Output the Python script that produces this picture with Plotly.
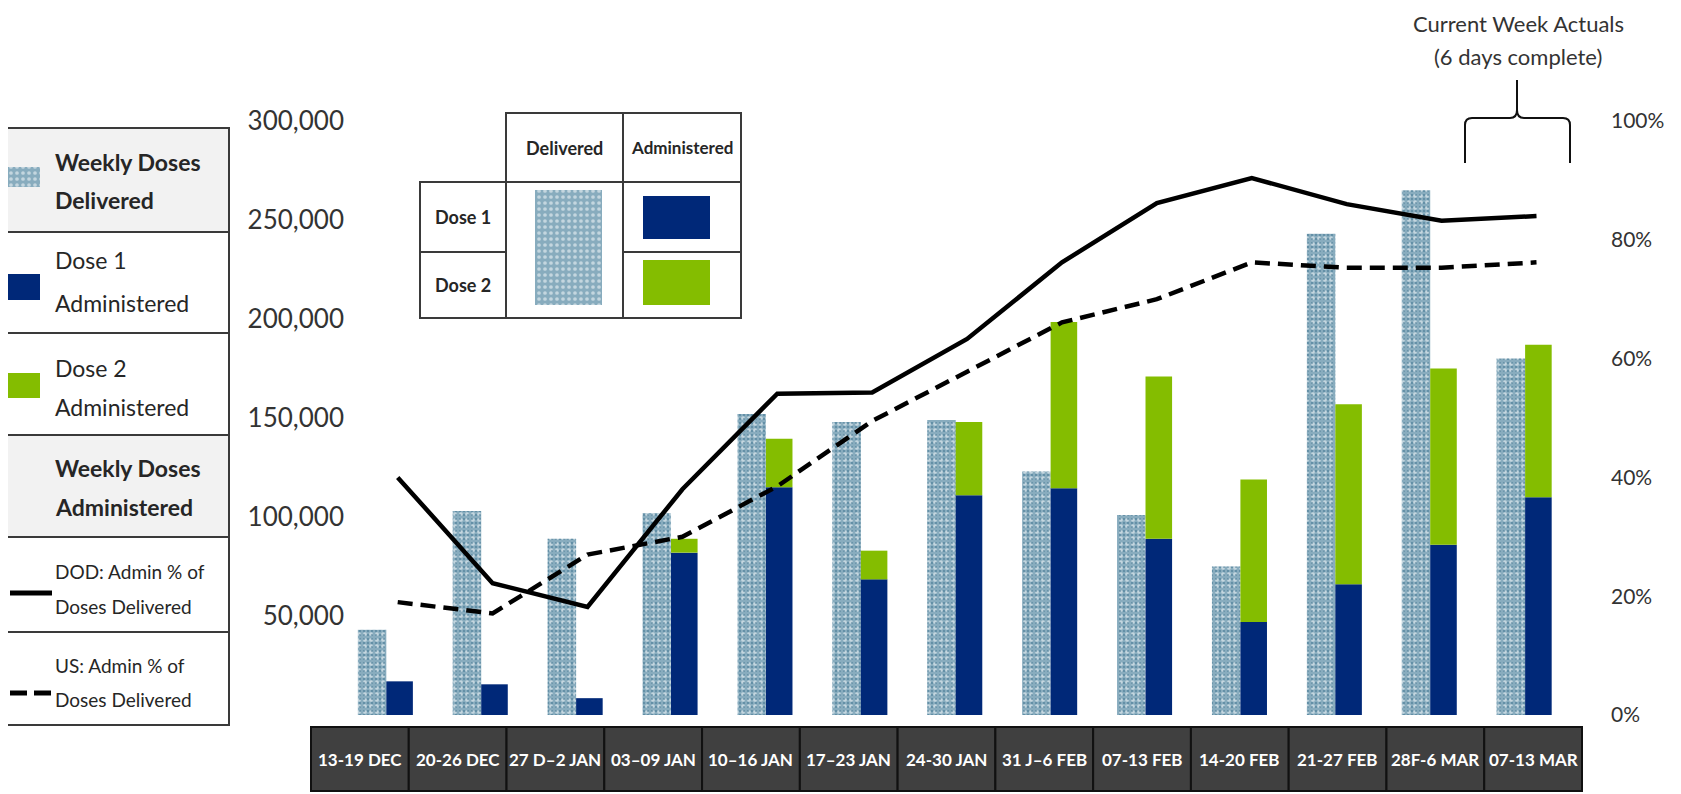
import plotly.graph_objects as go

# ---------------- data ----------------
categories = ["13-19 DEC", "20-26 DEC", "27 D\u20132 JAN", "03\u201309 JAN", "10\u201316 JAN",
              "17\u201323 JAN", "24-30 JAN", "31 J\u20136 FEB", "07-13 FEB", "14-20 FEB",
              "21-27 FEB", "28F-6 MAR", "07-13 MAR"]
delivered = [43000, 103000, 89000, 102000, 152000, 148000, 149000, 123000, 101000, 75000, 243000, 265000, 180000]
dose1 = [17000, 15500, 8500, 82000, 115000, 68500, 111000, 114500, 89000, 47000, 66000, 86000, 110000]
dose2 = [0, 0, 0, 7000, 24500, 14500, 37000, 84000, 82000, 72000, 91000, 89000, 77000]
dod_pct = [0.40, 0.222, 0.182, 0.38, 0.541, 0.543, 0.633, 0.762, 0.862, 0.904, 0.860, 0.832, 0.840]
us_pct = [0.190, 0.171, 0.270, 0.300, 0.385, 0.495, 0.578, 0.661, 0.700, 0.762, 0.753, 0.753, 0.762]
left_ticks = [50000, 100000, 150000, 200000, 250000, 300000]
right_ticks = [0, 0.2, 0.4, 0.6, 0.8, 1.0]

legend_rows = [
    ("Weekly Doses", "Delivered", True),
    ("Dose 1", "Administered", False),
    ("Dose 2", "Administered", False),
    ("Weekly Doses", "Administered", True),
    ("DOD: Admin % of", "Doses Delivered", False),
    ("US: Admin % of", "Doses Delivered", False),
]
note_lines = ["Current Week Actuals", "(6 days complete)"]

# ---------------- styling / layout ----------------
W, H = 1681, 794          # page size
OX, OY = 8, 8             # default body margin of the html page
FW, FH = W - OX, H - OY   # figure size so it fits the window exactly
FONT = "Lato, 'Open Sans', sans-serif"
BG_DEL = "#88acbe"
NAVY = "#002878"
GREEN = "#84bd00"
TXT = "#262626"

# plot area in page pixels
PL, PR, PT, PB = 350, 1600, 121, 715
CAT_PX0, CAT_PITCH = 397.7, 94.9
x_range = [(PL - CAT_PX0) / CAT_PITCH, (PR - CAT_PX0) / CAT_PITCH]
xs = list(range(len(categories)))

fig = go.Figure()

pat_white = dict(shape=".", fgcolor="white", bgcolor=BG_DEL, size=6, solidity=0.3)
pat_dark = dict(shape=".", fgcolor="#1c5878", size=4, solidity=0.16, fillmode="overlay")

fig.add_trace(go.Bar(x=xs, y=delivered, width=0.30, offset=-0.42,
                     marker=dict(color=BG_DEL, pattern=pat_white, line=dict(width=0)),
                     hoverinfo="skip"))
fig.add_trace(go.Bar(x=xs, y=delivered, width=0.30, offset=-0.42,
                     marker=dict(color="rgba(0,0,0,0)", pattern=pat_dark, line=dict(width=0)),
                     hoverinfo="skip"))
fig.add_trace(go.Bar(x=xs, y=dose1, width=0.28, offset=-0.12,
                     marker=dict(color=NAVY, line=dict(width=0))))
fig.add_trace(go.Bar(x=xs, y=dose2, base=dose1, width=0.28, offset=-0.12,
                     marker=dict(color=GREEN, line=dict(width=0))))
fig.add_trace(go.Scatter(x=xs, y=dod_pct, yaxis="y2", mode="lines",
                         line=dict(color="black", width=4.5)))
fig.add_trace(go.Scatter(x=xs, y=us_pct, yaxis="y2", mode="lines",
                         line=dict(color="black", width=4.5, dash="15px,8px")))

shapes = []
annots = []


def px_rect(x0, y0, x1, y1, fill="rgba(0,0,0,0)", line_color="#3a3a3a", lw=2, layer="below"):
    shapes.append(dict(type="rect", xref="x3", yref="y3", x0=x0, y0=y0, x1=x1, y1=y1,
                       fillcolor=fill, line=dict(color=line_color, width=lw), layer=layer))


def px_line(x0, y0, x1, y1, color="#3a3a3a", lw=2):
    shapes.append(dict(type="line", xref="x3", yref="y3", x0=x0, y0=y0, x1=x1, y1=y1,
                       line=dict(color=color, width=lw), layer="above"))


def px_text(x, y, text, size, bold=False, color=TXT, xanchor="left"):
    annots.append(dict(xref="x3", yref="y3", x=x, y=y, text=f"<b>{text}</b>" if bold else text,
                       showarrow=False, xanchor=xanchor, yanchor="middle",
                       font=dict(family=FONT, size=size, color=color)))


def pattern_swatch(x0, y0, x1, y1):
    fig.add_trace(go.Scatter(x=[x0, x1, x1, x0, x0], y=[y0, y0, y1, y1, y0],
                             xaxis="x3", yaxis="y3", mode="lines", fill="toself",
                             fillcolor=BG_DEL, fillpattern=pat_white,
                             line=dict(width=0), hoverinfo="skip"))


# ---- left legend box ----
row_y = [128, 232, 333, 435, 537, 632, 725]
text_y = [(162, 200), (260, 303), (368, 407), (468, 507), (571, 606), (665, 699)]
BX0, BX1 = 3, 229
for i, (l1, l2, bold) in enumerate(legend_rows):
    y0, y1 = row_y[i], row_y[i + 1]
    fill = "#f2f2f2" if bold else "white"
    px_rect(BX0, y0, BX1, y1, fill=fill)
    size = 19 if i >= 4 else 23
    px_text(53, text_y[i][0], l1, size, bold=bold)
    px_text(53, text_y[i][1], l2, size, bold=bold)

pattern_swatch(6, 167, 40, 187)
px_rect(6, 274, 40, 300, fill=NAVY, line_color=NAVY, lw=0, layer="above")
px_rect(6, 373, 40, 398, fill=GREEN, line_color=GREEN, lw=0, layer="above")
px_line(10, 593, 52, 593, color="black", lw=5)
px_line(10, 693, 27, 693, color="black", lw=5)
px_line(34, 693, 51, 693, color="black", lw=5)

# ---- inset table ----
TC = [420, 506, 623, 741]
TR = [113, 182, 252, 318]
px_rect(TC[1], TR[0], TC[2], TR[1], fill="white")
px_rect(TC[2], TR[0], TC[3], TR[1], fill="white")
px_rect(TC[0], TR[1], TC[1], TR[2], fill="white")
px_rect(TC[0], TR[2], TC[1], TR[3], fill="white")
px_rect(TC[1], TR[1], TC[2], TR[3], fill="white")
px_rect(TC[2], TR[1], TC[3], TR[2], fill="white")
px_rect(TC[2], TR[2], TC[3], TR[3], fill="white")
px_text((TC[1] + TC[2]) / 2, (TR[0] + TR[1]) / 2, "Delivered", 18, bold=True, xanchor="center")
px_text((TC[2] + TC[3]) / 2, (TR[0] + TR[1]) / 2, "Administered", 17, bold=True, xanchor="center")
px_text((TC[0] + TC[1]) / 2, (TR[1] + TR[2]) / 2, "Dose 1", 18, bold=True, xanchor="center")
px_text((TC[0] + TC[1]) / 2, (TR[2] + TR[3]) / 2, "Dose 2", 18, bold=True, xanchor="center")
pattern_swatch(535, 190, 602, 305)
px_rect(643, 196, 710, 239, fill=NAVY, line_color=NAVY, lw=0, layer="above")
px_rect(643, 260, 710, 305, fill=GREEN, line_color=GREEN, lw=0, layer="above")

# ---- category band ----
BAND_X0, BAND_X1, BAND_Y0, BAND_Y1 = 311, 1582, 727, 791
cell = (BAND_X1 - BAND_X0) / len(categories)
for i, c in enumerate(categories):
    x0 = BAND_X0 + i * cell
    px_rect(x0, BAND_Y0, x0 + cell, BAND_Y1, fill="#404040", line_color="#111111", lw=2, layer="above")
    px_text(x0 + cell / 2, (BAND_Y0 + BAND_Y1) / 2, c, 17, bold=True, color="white", xanchor="center")

# ---- current week brace ----
brace = ("M 1465 163 L 1465 125 Q 1465 118 1472 118 L 1510 118 Q 1517 118 1517 110 L 1517 80 "
         "M 1517 110 Q 1517 118 1524 118 L 1563 118 Q 1570 118 1570 125 L 1570 163")
shapes.append(dict(type="path", xref="x3", yref="y3", path=brace,
                   line=dict(color="#111111", width=2), layer="above"))
px_text(1518, 23, note_lines[0], 22, color="#333333", xanchor="center")
px_text(1518, 56, note_lines[1], 22, color="#333333", xanchor="center")

fig.update_layout(
    width=FW, height=FH,
    margin=dict(l=0, r=0, t=0, b=0, pad=0),
    paper_bgcolor="white", plot_bgcolor="rgba(0,0,0,0)",
    barmode="overlay", showlegend=False,
    font=dict(family=FONT, color=TXT),
    shapes=shapes, annotations=annots,
    xaxis=dict(domain=[(PL - OX) / FW, (PR - OX) / FW], range=x_range, visible=False,
               anchor="y", automargin=False),
    yaxis=dict(domain=[1 - (PB - OY) / FH, 1 - (PT - OY) / FH], range=[0, 300000], anchor="x",
               tickvals=left_ticks, ticktext=[f"{v:,}" for v in left_ticks],
               showgrid=False, zeroline=False, showline=False, ticks="",
               tickfont=dict(family=FONT, size=26, color="#333333"),
               ticklabelstandoff=5, automargin=False),
    yaxis2=dict(overlaying="y", side="right", anchor="x", range=[0, 1],
                tickvals=right_ticks, ticktext=[f"{int(round(v * 100))}%" for v in right_ticks],
                showgrid=False, zeroline=False, showline=False, ticks="",
                tickfont=dict(family=FONT, size=21, color="#333333"),
                ticklabelstandoff=10, automargin=False),
    xaxis3=dict(domain=[0, 1], range=[OX, W], visible=False, anchor="y3", automargin=False),
    yaxis3=dict(domain=[0, 1], range=[H, OY], visible=False, anchor="x3", automargin=False),
)

fig.write_html("out.html")
